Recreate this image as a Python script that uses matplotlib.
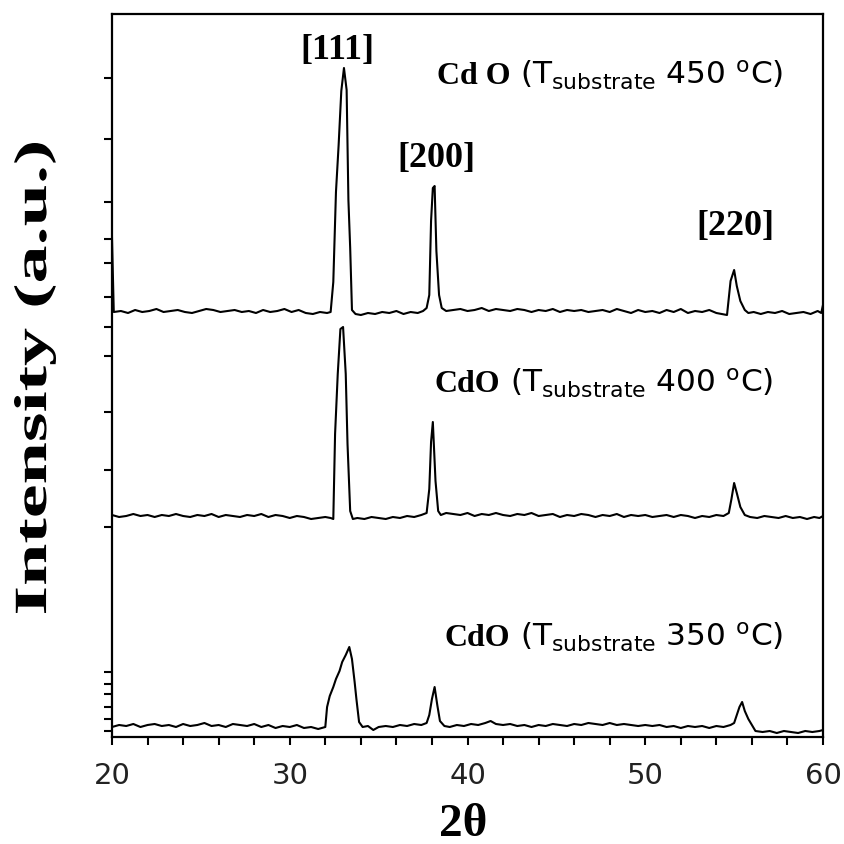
"""XRD patterns of CdO films deposited at three substrate temperatures.

Stacked traces (offset vertically), Miller indices on the main reflections.
Output: out.png
"""

import matplotlib
matplotlib.use("Agg")
import matplotlib.pyplot as plt
import matplotlib.transforms as mtransforms
from matplotlib.font_manager import FontProperties
from matplotlib.offsetbox import AnnotationBbox, HPacker, TextArea
from matplotlib.patches import PathPatch
from matplotlib.textpath import TextPath

# --- data (2theta in degrees, intensity in a.u.) ---
TWO_THETA_450 = [
    20.0, 20.1, 20.5, 20.9, 21.3, 21.7, 22.1, 22.5, 22.9, 23.3,
    23.7, 24.1, 24.5, 24.9, 25.3, 25.7, 26.1, 26.5, 26.9, 27.3,
    27.7, 28.1, 28.5, 28.9, 29.3, 29.7, 30.1, 30.5, 30.9, 31.3,
    31.7, 32.1, 32.3, 32.45, 32.6, 32.75, 32.9, 33.05, 33.2, 33.3,
    33.4, 33.5, 33.7, 34.0, 34.4, 34.8, 35.2, 35.6, 36.0, 36.4,
    36.8, 37.2, 37.5, 37.7, 37.85, 37.95, 38.05, 38.15, 38.25, 38.4,
    38.55, 38.8, 39.2, 39.6, 40.0, 40.4, 40.8, 41.2, 41.6, 42.0,
    42.4, 42.8, 43.2, 43.6, 44.0, 44.4, 44.8, 45.2, 45.6, 46.0,
    46.4, 46.8, 47.2, 47.6, 48.0, 48.4, 48.8, 49.2, 49.6, 50.0,
    50.4, 50.8, 51.2, 51.6, 52.0, 52.4, 52.8, 53.2, 53.6, 54.0,
    54.3, 54.6, 54.8, 55.0, 55.15, 55.35, 55.6, 55.8, 56.1, 56.5,
    56.9, 57.3, 57.7, 58.1, 58.5, 58.9, 59.3, 59.7, 59.9, 60.0,
]
INTENSITY_450 = [
    84, 10, 11, 9, 12, 10, 11, 13, 10, 11,
    12, 10, 9, 11, 13, 12, 10, 11, 12, 10,
    11, 9, 12, 10, 11, 13, 10, 12, 9, 8,
    10, 9, 10, 40, 130, 177, 231, 254, 232, 122,
    74, 12, 8, 7, 9, 8, 10, 9, 11, 8,
    10, 9, 11, 14, 27, 101, 134, 136, 71, 27,
    14, 11, 12, 13, 11, 12, 14, 11, 13, 12,
    11, 13, 12, 10, 12, 11, 13, 10, 12, 11,
    12, 10, 11, 12, 10, 13, 11, 9, 12, 10,
    11, 9, 12, 10, 13, 9, 11, 10, 12, 9,
    8, 7, 41, 52, 36, 21, 12, 9, 10, 8,
    10, 9, 11, 8, 9, 10, 8, 11, 9, 17,
]

TWO_THETA_400 = [
    20.0, 20.4, 20.8, 21.2, 21.6, 22.0, 22.4, 22.8, 23.2, 23.6,
    24.0, 24.4, 24.8, 25.2, 25.6, 26.0, 26.4, 26.8, 27.2, 27.6,
    28.0, 28.4, 28.8, 29.2, 29.6, 30.0, 30.4, 30.8, 31.2, 31.6,
    32.0, 32.3, 32.45, 32.55, 32.7, 32.85, 33.0, 33.15, 33.25, 33.4,
    33.55, 33.8, 34.2, 34.6, 35.0, 35.4, 35.8, 36.2, 36.6, 37.0,
    37.4, 37.7, 37.85, 37.95, 38.05, 38.2, 38.35, 38.5, 38.8, 39.2,
    39.6, 40.0, 40.4, 40.8, 41.2, 41.6, 42.0, 42.4, 42.8, 43.2,
    43.6, 44.0, 44.4, 44.8, 45.2, 45.6, 46.0, 46.4, 46.8, 47.2,
    47.6, 48.0, 48.4, 48.8, 49.2, 49.6, 50.0, 50.4, 50.8, 51.2,
    51.6, 52.0, 52.4, 52.8, 53.2, 53.6, 54.0, 54.4, 54.7, 54.85,
    55.0, 55.15, 55.35, 55.6, 55.9, 56.3, 56.7, 57.1, 57.5, 57.9,
    58.3, 58.7, 59.1, 59.5, 59.8, 60.0,
]
INTENSITY_400 = [
    12, 10, 11, 13, 11, 12, 10, 12, 11, 13,
    11, 10, 12, 11, 13, 10, 12, 11, 10, 12,
    11, 13, 10, 12, 11, 9, 11, 10, 8, 9,
    10, 9, 8, 93, 153, 198, 200, 153, 83, 16,
    8, 9, 8, 10, 9, 8, 10, 9, 11, 10,
    12, 14, 38, 85, 105, 46, 16, 12, 14, 13,
    12, 14, 11, 13, 12, 14, 12, 11, 13, 12,
    14, 11, 12, 13, 10, 12, 11, 13, 12, 10,
    12, 11, 13, 10, 12, 11, 12, 10, 11, 12,
    10, 12, 11, 9, 11, 10, 12, 11, 14, 28,
    44, 34, 20, 12, 10, 9, 11, 10, 9, 11,
    9, 10, 8, 10, 9, 11,
]

TWO_THETA_350 = [
    20.0, 20.4, 20.8, 21.2, 21.6, 22.0, 22.4, 22.8, 23.2, 23.6,
    24.0, 24.4, 24.8, 25.2, 25.6, 26.0, 26.4, 26.8, 27.2, 27.6,
    28.0, 28.4, 28.8, 29.2, 29.6, 30.0, 30.4, 30.8, 31.2, 31.6,
    32.0, 32.1, 32.25, 32.45, 32.6, 32.8, 32.95, 33.15, 33.35, 33.5,
    33.65, 33.75, 33.9, 34.1, 34.4, 34.7, 35.0, 35.4, 35.8, 36.2,
    36.6, 37.0, 37.4, 37.7, 37.85, 38.0, 38.15, 38.3, 38.45, 38.7,
    39.0, 39.4, 39.8, 40.2, 40.6, 41.0, 41.3, 41.6, 42.0, 42.4,
    42.8, 43.2, 43.6, 44.0, 44.4, 44.8, 45.2, 45.6, 46.0, 46.4,
    46.8, 47.2, 47.6, 48.0, 48.4, 48.8, 49.2, 49.6, 50.0, 50.4,
    50.8, 51.2, 51.6, 52.0, 52.4, 52.8, 53.2, 53.6, 54.0, 54.4,
    54.8, 55.0, 55.15, 55.3, 55.45, 55.6, 55.8, 56.0, 56.2, 56.6,
    57.0, 57.4, 57.8, 58.2, 58.6, 59.0, 59.4, 59.8, 60.0,
]
INTENSITY_350 = [
    10, 12, 11, 13, 10, 12, 13, 11, 12, 10,
    13, 11, 12, 14, 11, 12, 10, 13, 12, 11,
    13, 10, 12, 9, 11, 10, 12, 9, 10, 8,
    10, 30, 41, 50, 58, 66, 75, 82, 90, 78,
    55, 38, 15, 10, 11, 7, 10, 11, 10, 12,
    11, 13, 12, 14, 22, 38, 50, 32, 16, 11,
    10, 12, 11, 13, 12, 14, 16, 13, 12, 13,
    11, 12, 10, 12, 11, 13, 12, 11, 13, 12,
    14, 13, 12, 14, 12, 13, 12, 11, 12, 11,
    12, 10, 11, 9, 11, 10, 11, 9, 11, 10,
    12, 14, 22, 30, 35, 26, 18, 12, 6, 5,
    6, 4, 6, 5, 4, 6, 5, 6, 7,
]

TEMPERATURES = ["350", "400", "450"]
SAMPLE_NAMES = ["CdO", "CdO", "Cd O"]
OFFSETS = [0, 210, 415]
LABEL_POS = [(38.7, 101), (38.15, 355), (38.26, 663)]

PEAK_LABELS = ["[111]", "[200]", "[220]"]
PEAK_LABEL_POS = [(32.7, 688), (38.26, 580), (55.06, 511)]

Y_TICKS = [659, 598, 535, 498, 474, 440, 410, 381, 325, 267, 210,
           65, 53, 43, 30, 18, 6]

SERIF = "Liberation Serif"
SANS = "DejaVu Sans"


def stretched_text(fig, s, cx, cy, length, thickness, rotation=0.0):
    """Draw s as a filled path stretched to length x thickness pixels."""
    tp = TextPath((0, 0), s, size=1, prop=FontProperties(family=SERIF, weight="bold"))
    bb = tp.get_extents()
    d = fig.dpi
    tr = (mtransforms.Affine2D()
          .translate(-bb.x0 - bb.width / 2, -bb.y0 - bb.height / 2)
          .scale(length / bb.width / d, thickness / bb.height / d)
          .rotate_deg(rotation)
          .translate(cx / d, cy / d)) + fig.dpi_scale_trans
    fig.add_artist(PathPatch(tp, transform=tr, facecolor="black", edgecolor="none"))


def main() -> None:
    plt.rcParams["mathtext.fontset"] = "dejavusans"
    fig = plt.figure(figsize=(8.45, 8.45), dpi=100)
    ax = fig.add_axes([112 / 845, 107 / 845, 711 / 845, 723 / 845])

    traces = [(TWO_THETA_350, INTENSITY_350),
              (TWO_THETA_400, INTENSITY_400),
              (TWO_THETA_450, INTENSITY_450)]
    for (tt, inten), off in zip(traces, OFFSETS):
        ax.plot(tt, [v + off for v in inten], color="black", lw=1.5)

    ax.set_xlim(20, 60)
    ax.set_ylim(0, 723)
    ax.set_xticks([20, 30, 40, 50, 60])
    ax.set_xticks(range(20, 61, 2), minor=True)
    ax.set_yticks(Y_TICKS)
    ax.set_yticklabels([])
    ax.tick_params(axis="both", which="both", direction="out", length=6,
                   width=1.5, color="black")
    ax.tick_params(axis="x", labelsize=21, labelcolor="#222222", pad=11)
    for lab in ax.get_xticklabels():
        lab.set_family(SANS)
    for side in ["left", "right", "top", "bottom"]:
        ax.spines[side].set_linewidth(1.6)

    # peak indices
    for txt, (x, y) in zip(PEAK_LABELS, PEAK_LABEL_POS):
        ax.text(x, y, txt, ha="center", va="center", fontsize=26,
                family=SERIF, weight="bold")

    # sample labels: bold serif name + sans temperature part
    for name, temp, (x, y) in zip(SAMPLE_NAMES, TEMPERATURES, LABEL_POS):
        part1 = TextArea(name, textprops=dict(family=SERIF, weight="bold",
                                              fontsize=23))
        part2 = TextArea(r"(T$_{\mathrm{substrate}}$" + f" {temp}" +
                         r" $^{\mathrm{o}}$C)",
                         textprops=dict(family=SANS, fontsize=22.5))
        box = HPacker(children=[part1, part2], sep=7, align="baseline")
        ab = AnnotationBbox(box, (x, y), xycoords="data", box_alignment=(0, 0.5),
                            frameon=False, pad=0)
        ax.add_artist(ab)

    stretched_text(fig, "Intensity (a.u.)", 35, 845 - 379, 470, 42, rotation=90)
    fig.text(463 / 845, 1 - 825 / 845, "2\u03b8", ha="center", va="center",
             fontsize=34, family=SERIF, weight="bold")

    fig.savefig("out.png", dpi=100)
    plt.close(fig)


if __name__ == "__main__":
    main()
